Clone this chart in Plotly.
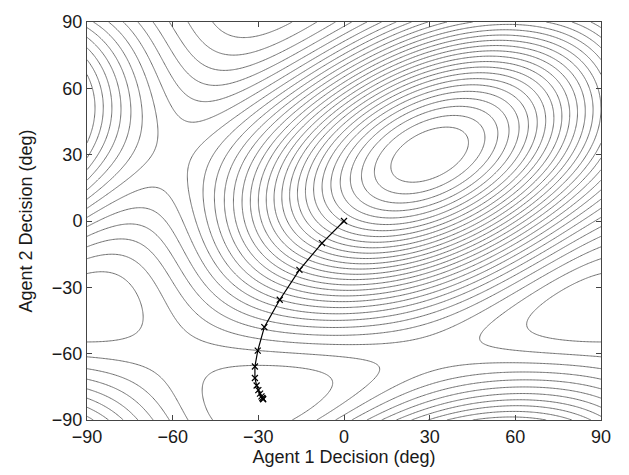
import numpy as np
import plotly.graph_objects as go

# ---- data ---------------------------------------------------------------
# grid of decisions (deg)
agent1_grid = np.arange(-90, 90.5, 0.5)
agent2_grid = np.arange(-90, 90.5, 0.5)

# objective field: a1*cos(2(t1-p1)) + a2*cos(2(t2-p2)) + a3*cos(2(t1-t2)-p3)
field_amplitudes = [1.0, 1.36, 0.92]
field_phases_deg = [30.0, 30.0, 0.0]

# number of contour levels (evenly spaced between field min and max)
n_levels = 28

# decision trajectory (deg)
traj_agent1 = [0.0, -7.7, -15.6, -22.5, -27.9, -30.2, -31.2, -31.2, -30.6,
               -30.0, -29.4, -28.9, -28.6, -28.4, -28.3]
traj_agent2 = [0.0, -10.0, -22.1, -35.6, -48.0, -58.6, -65.8, -71.0, -74.4,
               -76.5, -78.1, -79.3, -80.0, -80.4, -80.6]

xtick_vals = [-90, -60, -30, 0, 30, 60, 90]
ytick_vals = [-90, -60, -30, 0, 30, 60, 90]
xtick_text = ["\u221290", "\u221260", "\u221230", "0", "30", "60", "90"]
ytick_text = ["\u221290", "\u221260", "\u221230", "0", "30", "60", "90"]

# ---- field -------------------------------------------------------------
T1, T2 = np.meshgrid(np.radians(agent1_grid), np.radians(agent2_grid))
a1, a2, a3 = field_amplitudes
p1, p2, p3 = np.radians(field_phases_deg)
Z = (a1 * np.cos(2 * (T1 - p1)) + a2 * np.cos(2 * (T2 - p2))
     + a3 * np.cos(2 * (T1 - T2) - p3))
levels = np.linspace(Z.min(), Z.max(), n_levels + 2)
lev_step = levels[1] - levels[0]

fig = go.Figure()
fig.add_trace(go.Contour(
    x=agent1_grid, y=agent2_grid, z=Z,
    contours=dict(coloring="lines", start=levels[1], end=levels[-2] + 1e-9,
                  size=lev_step, showlabels=False),
    colorscale=[[0, "#707070"], [1, "#707070"]],
    showscale=False,
    line=dict(width=1.0, smoothing=1.0),
    hoverinfo="skip",
))
fig.add_trace(go.Scatter(
    x=traj_agent1, y=traj_agent2, mode="lines+markers",
    line=dict(color="black", width=1.2),
    marker=dict(symbol="x-thin", size=6, line=dict(color="black", width=1.2)),
    showlegend=False,
))

axis_common = dict(
    showgrid=False, zeroline=False, showline=True, linecolor="#444444",
    linewidth=1, mirror="allticks", ticks="inside", ticklen=5,
    tickcolor="#444444", tickwidth=1,
    tickfont=dict(family="Liberation Sans, Arial, sans-serif", size=18,
                  color="#1a1a1a"),
    title_font=dict(family="Liberation Sans, Arial, sans-serif", size=18,
                    color="#1a1a1a"),
)

fig.update_layout(
    width=629, height=475,
    margin=dict(l=87, r=28, t=15, b=55),
    paper_bgcolor="white", plot_bgcolor="white",
    showlegend=False,
    xaxis=dict(range=[-90, 90], tickvals=xtick_vals, ticktext=xtick_text,
               title=dict(text="Agent 1 Decision (deg)", standoff=0),
               **axis_common),
    yaxis=dict(range=[-90, 90], tickvals=ytick_vals, ticktext=ytick_text,
               title=dict(text="Agent 2 Decision (deg)", standoff=14),
               **axis_common),
)

fig.write_html("out.html")
